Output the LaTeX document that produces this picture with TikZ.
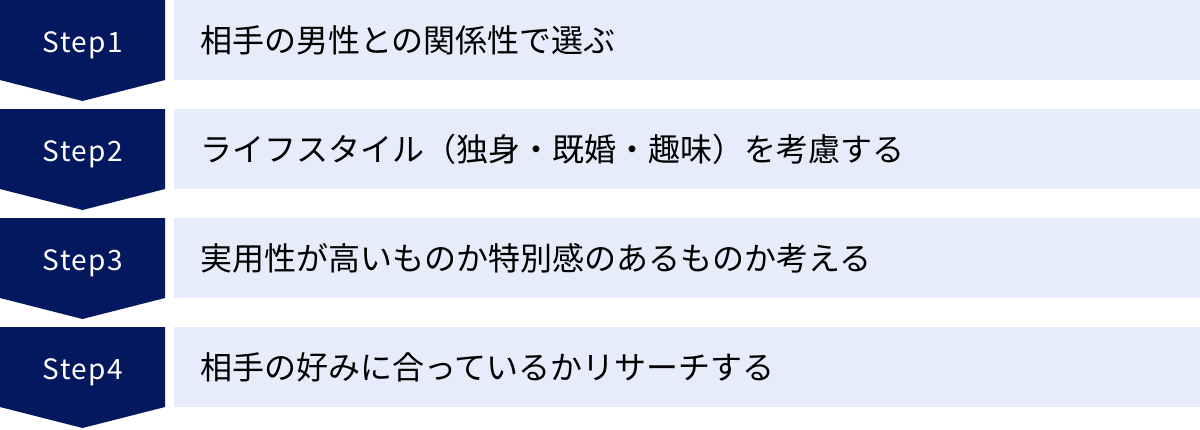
\documentclass[tikz,border=0pt]{standalone}
\usepackage{fontspec}
\newfontfamily\jp{Noto Sans CJK JP}
\newfontfamily\jpstep[LetterSpace=5]{Noto Sans CJK JP}
\definecolor{navy}{RGB}{4,24,96}
\definecolor{barblue}{RGB}{230,236,249}
\tikzset{
  stepshape/.style={fill=navy},
  barshape/.style={fill=barblue},
  steplabel/.style={text=white,font=\jpstep\fontsize{28}{32}\selectfont,inner sep=0pt,anchor=base},
  bartext/.style={text=black,font=\jp\fontsize{32}{38}\selectfont,inner sep=0pt,anchor=base west},
}
\begin{document}
\begin{tikzpicture}[x=1pt,y=-1pt]
\useasboundingbox[fill=white] (0,0) rectangle (1200,429);
\foreach \i/\t in {1/相手の男性との関係性で選ぶ,2/ライフスタイル（独身・既婚・趣味）を考慮する,3/実用性が高いものか特別感のあるものか考える,4/相手の好みに合っているかリサーチする}{
  \pgfmathsetmacro{\top}{(\i-1)*109}
  \path[stepshape] (0,\top) -- (165,\top) -- (165,\top+80) -- (82.5,\top+101) -- (0,\top+80) -- cycle;
  \path[barshape] (174,\top) rectangle (1200,\top+80);
  \node[steplabel] (s\i) at (83,\top+52) {Step\i};
  \node[bartext] (t\i) at (200,\top+52) {\t};
}
\end{tikzpicture}
\end{document}
